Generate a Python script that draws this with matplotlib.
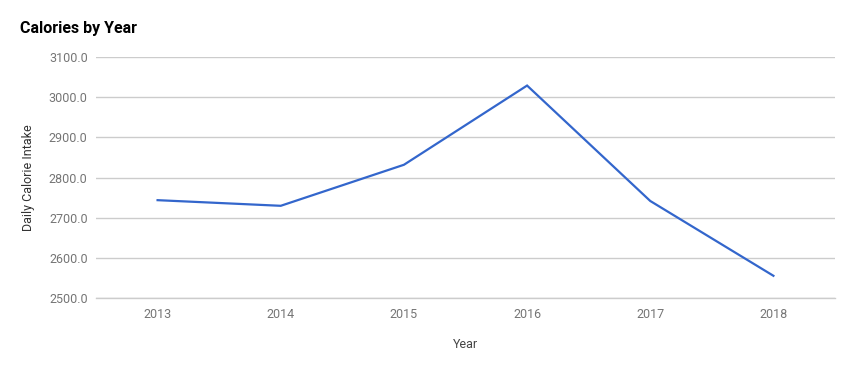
import matplotlib
matplotlib.use("Agg")
import matplotlib.pyplot as plt

years = [2013, 2014, 2015, 2016, 2017, 2018]
calories = [2744, 2730, 2832, 3029, 2742, 2556]
yticks = [2500, 2600, 2700, 2800, 2900, 3000, 3100]

plt.rcParams['font.family'] = ['Roboto', 'DejaVu Sans']

fig = plt.figure(figsize=(8.54, 3.71), dpi=100)
ax = fig.add_axes([96/854, (371-298.3)/371, (835-96)/854, (298.3-57)/371])
ax.plot(years, calories, color='#3366cc', linewidth=1.6, solid_joinstyle='miter')
ax.set_xlim(2012.5, 2018.5)
ax.set_ylim(2500, 3100)
ax.set_yticks(yticks)
ax.set_yticklabels([f"{v:.1f}" for v in yticks])
ax.set_xticks(years)
ax.set_xticklabels([str(y) for y in years])
ax.grid(axis='y', color='#cccccc', linewidth=1)
ax.set_axisbelow(True)
for s in ax.spines.values():
    s.set_visible(False)
ax.axhline(2500, color='#cccccc', linewidth=1, clip_on=False, zorder=0.5)
ax.tick_params(axis='both', length=0, labelsize=9, colors='#757575')
ax.tick_params(axis='y', pad=6)
ax.tick_params(axis='x', pad=7)
ax.set_xlabel('Year', fontsize=9, color='#444444', labelpad=12)
ax.set_ylabel('Daily Calorie Intake', fontsize=9, color='#333333', labelpad=10)
fig.text(20/854, 1 - 28/371, 'Calories by Year', fontsize=11.5, fontweight='bold',
         color='#000000', va='center', ha='left')
fig.savefig('out.png', dpi=100)
